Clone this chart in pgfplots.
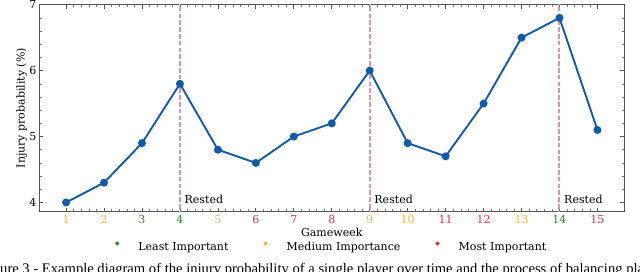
\documentclass[border=0pt]{standalone}
\usepackage{pgfplots}
\pgfplotsset{compat=1.18}
\usepackage{fontspec}
\setmainfont{DejaVu Serif}
\newfontfamily\capfont{Liberation Serif}
\definecolor{cblue}{RGB}{20,90,165}
\definecolor{cgreen}{RGB}{40,135,40}
\definecolor{corange}{RGB}{245,180,60}
\definecolor{cred}{RGB}{228,50,55}
\definecolor{cpink}{RGB}{222,145,175}
\definecolor{cspine}{RGB}{85,85,85}
\begin{document}
\begin{tikzpicture}[x=1pt,y=1pt]
\useasboundingbox (0,0) rectangle (640,272);
\clip (0,0) rectangle (640,272);
\begin{axis}[
  at={(39.5pt,60.3pt)}, anchor=south west,
  scale only axis, width=584.5pt, height=207pt,
  xmin=0.3, xmax=15.7, ymin=3.86, ymax=7.0,
  xtick={1,...,15},
  xticklabels={\textcolor{corange}{1},\textcolor{corange}{2},\textcolor{cgreen}{3},\textcolor{cgreen}{4},\textcolor{corange}{5},\textcolor{cred}{6},\textcolor{cred}{7},\textcolor{cred}{8},\textcolor{corange}{9},\textcolor{corange}{10},\textcolor{cred}{11},\textcolor{cred}{12},\textcolor{corange}{13},\textcolor{cgreen}{14},\textcolor{cred}{15}},
  ytick={4,5,6,7},
  minor x tick num=4, minor y tick num=4,
  tick align=inside,
  major tick length=3.9pt, minor tick length=2.2pt,
  axis line style={cspine, line width=0.8pt},
  every tick/.style={cspine, line width=0.7pt},
  every minor tick/.style={cspine!80, line width=0.5pt},
  /pgf/number format/assume math mode=true,
  ticklabel style={font=\fontsize{11}{13}\selectfont},
  xticklabel style={anchor=north, inner sep=0pt, yshift=-3.3pt},
  yticklabel style={anchor=east, inner sep=0pt, xshift=-3pt},
  xlabel={Gameweek},
  ylabel={Injury probability (\%)},
  label style={font=\fontsize{11}{13}\selectfont},
  xlabel style={at={(axis description cs:0.5,-0.098)}, anchor=center, inner sep=0pt},
  ylabel style={at={(axis description cs:-0.0305,0.5)}, anchor=center, inner sep=0pt},
  legend columns=3,
  legend style={draw=none, fill=none, at={(0.5,-0.1705)}, anchor=center,
    font=\fontsize{11}{13}\selectfont, inner sep=0pt,
    /tikz/every odd column/.append style={column sep=0pt},
    /tikz/every even column/.append style={column sep=33pt}},
  legend cell align=left,
  unbounded coords=jump,
]
\addlegendimage{legend image code/.code={\path (0pt,0pt) (19pt,0pt); \fill[cgreen] (0pt,3.5pt) circle (1.8pt);}}
\addlegendentry{Least Important}
\addlegendimage{legend image code/.code={\path (0pt,0pt) (19pt,0pt); \fill[corange] (0pt,3.5pt) circle (1.8pt);}}
\addlegendentry{Medium Importance}
\addlegendimage{legend image code/.code={\path (0pt,0pt) (19pt,0pt); \fill[cred] (0pt,3.5pt) circle (1.8pt);}}
\addlegendentry{Most Important}
\addplot[forget plot, draw=cpink, line width=2pt, dash pattern=on 4.6pt off 2.2pt] coordinates {
(4,3.7) (4,7.2) (6.5,nan) (9,3.7) (9,7.2) (11.5,nan) (14,3.7) (14,7.2)};
\addplot[forget plot, cblue, line width=1.9pt, mark=*, mark size=3pt, mark options={solid}] coordinates {
(1,4.0) (2,4.3) (3,4.9) (4,5.8) (5,4.8) (6,4.6) (7,5.0) (8,5.2)
(9,6.0) (10,4.9) (11,4.7) (12,5.5) (13,6.5) (14,6.8) (15,5.1)};
\node[anchor=west, inner sep=0pt, font=\fontsize{11}{13}\selectfont] at (axis cs:4.12,4.05) {Rested};
\node[anchor=west, inner sep=0pt, font=\fontsize{11}{13}\selectfont] at (axis cs:9.12,4.05) {Rested};
\node[anchor=west, inner sep=0pt, font=\fontsize{11}{13}\selectfont] at (axis cs:14.12,4.05) {Rested};
\end{axis}
\node[anchor=base west, inner sep=0pt, font=\capfont\fontsize{14.6}{16}\selectfont] at (0,-1.5)
  {\llap{Fig}ure 3 - Example diagram of the injury probability of a single player over time and the process of balancing players};
\end{tikzpicture}
\end{document}
